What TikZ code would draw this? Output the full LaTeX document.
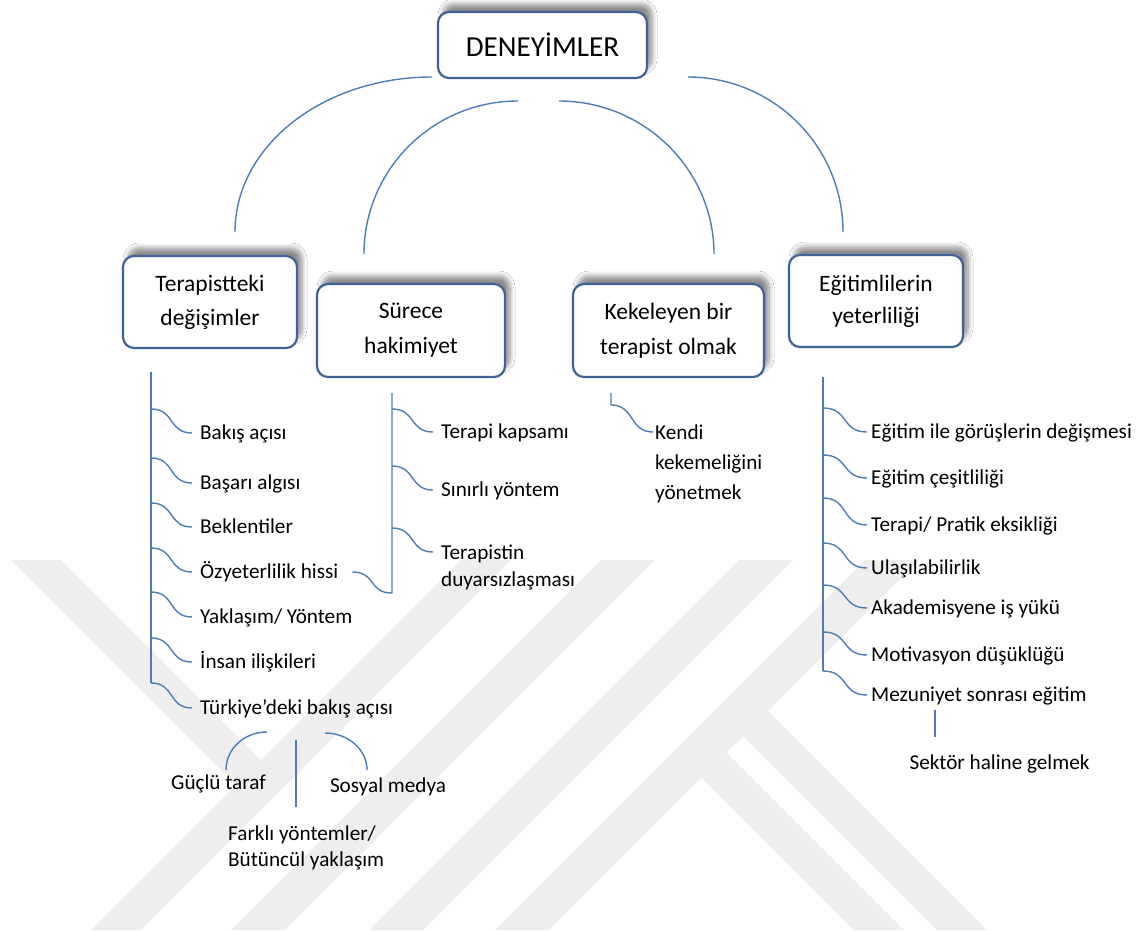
\documentclass[tikz,border=0pt]{standalone}
\usepackage{fontspec}
\setmainfont{Carlito}
\usetikzlibrary{shadows.blur,calc}
\definecolor{lineblue}{HTML}{4A7EBB}
\definecolor{boxblue}{HTML}{3E6396}
\definecolor{wmark}{HTML}{EEEEEE}
\begin{document}
\begin{tikzpicture}[x=1pt,y=-1pt,
  conn/.style={draw=lineblue, line width=1.4pt},
  mainbox/.style={draw=boxblue, line width=2.2pt, rounded corners=11pt, fill=white, align=center, inner sep=0pt, text=black,
     blur shadow={shadow xshift=5pt, shadow yshift=8pt, shadow opacity=45, shadow blur radius=5pt, shadow blur steps=8}},
  leaf/.style={anchor=west, inner xsep=8pt, inner ysep=0pt, font=\fontsize{21.2}{30}\selectfont, text height=17.8pt, text depth=4.4pt},
  leafm/.style={anchor=north west, inner xsep=8pt, inner ysep=0pt, align=left},
  band/.style={fill=wmark, draw=none}]
\fill[white] (0,0) rectangle (1144,930);
\useasboundingbox (0,0) rectangle (1144,930);

% faint background watermark
\fill[band] (461,560) -- (511,560) -- (141,930) -- (91,930) -- cycle;
\fill[band] (11,560) -- (61,560) -- (261,760) -- (236,785) -- cycle;
\fill[band] (601,560) -- (655,560) -- (285,930) -- (231,930) -- cycle;
\fill[band] (739,560) -- (793,560) -- (423,930) -- (369,930) -- cycle;
\fill[band] (865,560) -- (919,560) -- (549,930) -- (495,930) -- cycle;
\fill[band] (768,711) -- (987,930) -- (937,930) -- (743,736) -- cycle;
\fill[band] (726.5,752.5) -- (904,930) -- (854,930) -- (701.5,777.5) -- cycle;

% main boxes
\node[mainbox, minimum width=209pt, minimum height=66pt, font=\fontsize{29}{34}\selectfont] (top) at (542.5,45) {DENEYİMLER};
\node[mainbox, minimum width=174pt, minimum height=92pt, font=\fontsize{23.5}{34}\selectfont] (b1) at (210,302) {Terapistteki\\değişimler};
\node[mainbox, minimum width=188pt, minimum height=93pt, font=\fontsize{23.5}{35}\selectfont] (b2) at (411,330.5) {Sürece\\hakimiyet};
\node[mainbox, minimum width=191pt, minimum height=93pt, font=\fontsize{23.5}{35}\selectfont] (b3) at (668.5,330.5) {Kekeleyen bir\\terapist olmak};
\node[mainbox, minimum width=174pt, minimum height=92pt, font=\fontsize{23.5}{32}\selectfont] (b4) at (876,301) {Eğitimlilerin\\yeterliliği};

% arcs from the top box
\coordinate (a1s) at (432,77);  \coordinate (a1e) at (235,232);
\coordinate (a2s) at (518,101); \coordinate (a2e) at (364,254);
\coordinate (a3s) at (559,101); \coordinate (a3e) at (714,254);
\coordinate (a4s) at (688,77);  \coordinate (a4e) at (843,232);
\draw[conn] (a1s) .. controls (323,77) and (235,146) .. (a1e);
\draw[conn] (a2s) .. controls (433,101) and (364,169.5) .. (a2e);
\draw[conn] (a3s) .. controls (644,101) and (714,169.5) .. (a3e);
\draw[conn] (a4s) .. controls (773,77) and (843,146) .. (a4e);

% left group
\node[leaf] (L1) at (192,433) {Bakış açısı};
\node[leaf] (L2) at (192,483) {Başarı algısı};
\node[leaf] (L3) at (192,527) {Beklentiler};
\node[leaf] (L4) at (192,572) {Özyeterlilik hissi};
\node[leaf] (L5) at (192,617) {Yaklaşım/ Yöntem};
\node[leaf] (L6) at (192,662) {İnsan ilişkileri};
\node[leaf] (L7) at (192,708) {Türkiye’deki bakış açısı};
\coordinate (v1t) at (151,372); \coordinate (v1b) at (151,683);
\draw[conn] (v1t) -- (v1b);
\foreach \n/\ys in {1/409,2/458,3/503,4/548,5/592,6/638,7/683}{
  \coordinate (ls\n) at (151,\ys);
  \draw[conn] (ls\n) .. controls +(24,0) and +(-24,0) .. (L\n.west);
}

% middle group
\node[leaf] (M1) at (433,432) {Terapi kapsamı};
\node[leaf] (M2) at (433,490) {Sınırlı yöntem};
\node[leafm, font=\fontsize{21.2}{27}\selectfont] (M3) at (433,541) {\rule{0pt}{17.8pt}Terapistin\\duyarsızlaşması};
\coordinate (v2t) at (392,393); \coordinate (v2b) at (392,593);
\draw[conn] (v2t) -- (v2b) .. controls +(-24,0) and +(24,0) .. ([xshift=6pt]L4.east);
\coordinate (ms1) at (392,409); \coordinate (ms2) at (392,466); \coordinate (ms3) at (392,528);
\draw[conn] (ms1) .. controls +(24,0) and +(-24,0) .. (M1.west);
\draw[conn] (ms2) .. controls +(24,0) and +(-24,0) .. (M2.west);
\draw[conn] (ms3) .. controls +(24,0) and +(-24,0) .. ([yshift=-11pt]M3.north west);

% kekeleyen group
\node[leafm, inner xsep=2pt, font=\fontsize{21.2}{30}\selectfont] (K1) at (653,421) {\rule{0pt}{17.8pt}Kendi\\kekemeliğini\\yönetmek};
\coordinate (k0) at (611,393); \coordinate (k1) at (611,405);
\draw[conn] (k0) -- (k1) .. controls +(24,0) and +(-24,0) .. ([yshift=-11pt]K1.north west);

% right group
\node[leaf, inner xsep=4pt] (R1) at (867,432) {Eğitim ile görüşlerin değişmesi};
\node[leaf, inner xsep=4pt] (R2) at (867,478) {Eğitim çeşitliliği};
\node[leaf, inner xsep=4pt] (R3) at (867,525) {Terapi/ Pratik eksikliği};
\node[leaf, inner xsep=4pt] (R4) at (867,568) {Ulaşılabilirlik};
\node[leaf, inner xsep=4pt] (R5) at (867,608) {Akademisyene iş yükü};
\node[leaf, inner xsep=4pt] (R6) at (867,655) {Motivasyon düşüklüğü};
\node[leaf, inner xsep=4pt] (R7) at (867,695) {Mezuniyet sonrası eğitim};
\coordinate (v4t) at (823,377); \coordinate (v4b) at (823,671);
\draw[conn] (v4t) -- (v4b);
\foreach \n/\ys in {1/408,2/455,3/498,4/543,5/585,6/632,7/671}{
  \coordinate (rs\n) at (823,\ys);
  \draw[conn] (rs\n) .. controls +(26,0) and +(-26,0) .. (R\n.west);
}
\node[leaf, anchor=center] (R8) at (999.5,763) {Sektör haline gelmek};
\coordinate (s0) at (935,710); \coordinate (s1) at (935,737);
\draw[conn] (s0) -- (s1);

% Türkiye'deki bakış açısı children
\node[leaf, anchor=center] (T1) at (218.5,783) {Güçlü taraf};
\node[leaf, anchor=center] (T3) at (388,786) {Sosyal medya};
\node[leafm, inner xsep=0pt, font=\fontsize{21.2}{26}\selectfont] (T2) at (228,822) {\rule{0pt}{17.8pt}Farklı yöntemler/\\Bütüncül yaklaşım};
\coordinate (g0) at (267,732); \coordinate (g1) at (226,770);
\draw[conn] (g0) .. controls (244,732) and (226,749) .. (g1);
\coordinate (f0) at (296,740); \coordinate (f1) at (296,807);
\draw[conn] (f0) -- (f1);
\coordinate (h0) at (325,733); \coordinate (h1) at (367,770);
\draw[conn] (h0) .. controls (348,733) and (367,749.5) .. (h1);
\end{tikzpicture}
\end{document}
